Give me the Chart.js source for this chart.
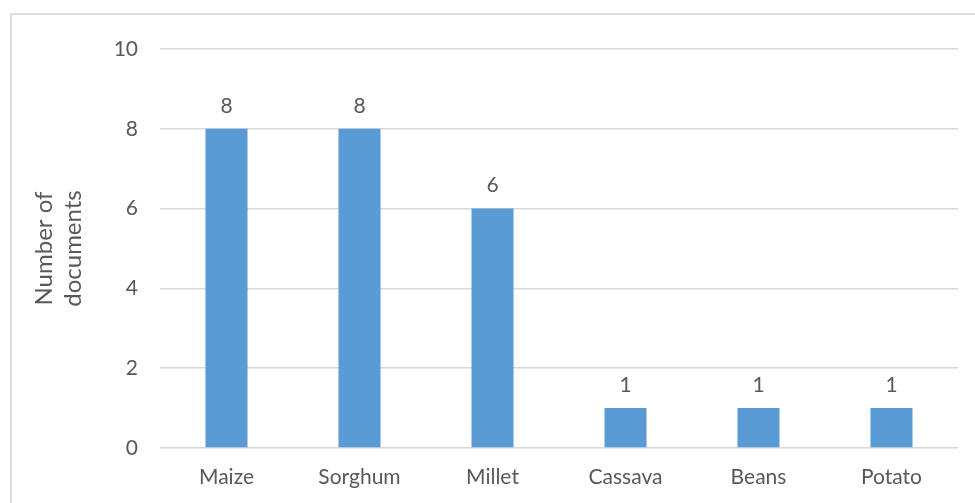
<!DOCTYPE html>
<html>
<head>
<meta charset="utf-8">
<script src="https://cdn.jsdelivr.net/npm/chart.js@4/dist/chart.umd.min.js"></script>
<style>
    body { margin: 0; background: #fff; }
    #wrap { position: relative; width: 975px; height: 503px; overflow: hidden; }
    #frame { position: absolute; left: 10px; top: 13px; width: 1000px; height: 600px; border: 2px solid #dcdcdc; box-sizing: border-box; }
    canvas { position: absolute; left: 0; top: 0; }
</style>
</head>
<body>
<div id="wrap">
    <div id="frame"></div>
    <canvas id="chart" width="975" height="503"></canvas>
</div>
<script>
const crops = ['Maize', 'Sorghum', 'Millet', 'Cassava', 'Beans', 'Potato'];
const documentCounts = [8, 8, 6, 1, 1, 1];
const yTicks = [0, 2, 4, 6, 8, 10];

const textColor = '#595959';
const fontFamily = 'Lato, "Open Sans", sans-serif';

// value labels above each bar
const barLabels = {
    id: 'barLabels',
    afterDatasetsDraw(chart) {
        const ctx = chart.ctx;
        const meta = chart.getDatasetMeta(0);
        ctx.save();
        ctx.fillStyle = textColor;
        ctx.font = '21px ' + fontFamily;
        ctx.textAlign = 'center';
        ctx.textBaseline = 'middle';
        meta.data.forEach((bar, i) => {
            ctx.fillText(String(documentCounts[i]), bar.x, bar.y - 23);
        });
        ctx.restore();
    }
};

new Chart(document.getElementById('chart'), {
    type: 'bar',
    data: {
        labels: crops,
        datasets: [{
            data: documentCounts,
            backgroundColor: '#5b9bd5',
            borderWidth: 0,
            barPercentage: 0.316,
            categoryPercentage: 1
        }]
    },
    options: {
        responsive: false,
        animation: false,
        layout: { padding: { top: 49, right: 17, bottom: 0, left: 0 } },
        plugins: {
            legend: { display: false },
            tooltip: { enabled: false }
        },
        scales: {
            x: {
                grid: { display: false, drawTicks: false },
                border: { display: false },
                ticks: {
                    color: textColor,
                    font: { family: fontFamily, size: 21 },
                    padding: 17,
                    maxRotation: 0
                },
                afterFit(scale) { scale.height = 55; }
            },
            y: {
                min: 0,
                max: 10,
                afterBuildTicks(scale) { scale.ticks = yTicks.map(v => ({ value: v })); },
                grid: { color: '#d9d9d9', lineWidth: 1.5, drawTicks: false },
                border: { display: false },
                ticks: {
                    color: textColor,
                    font: { family: fontFamily, size: 21 },
                    padding: 22
                },
                title: {
                    display: true,
                    text: ['Number of', 'documents'],
                    color: textColor,
                    font: { family: fontFamily, size: 24 },
                    lineHeight: 1.38,
                    padding: { top: 30, bottom: 0 }
                },
                afterFit(scale) { scale.width = 160; }
            }
        }
    },
    plugins: [barLabels]
});
</script>
</body>
</html>
